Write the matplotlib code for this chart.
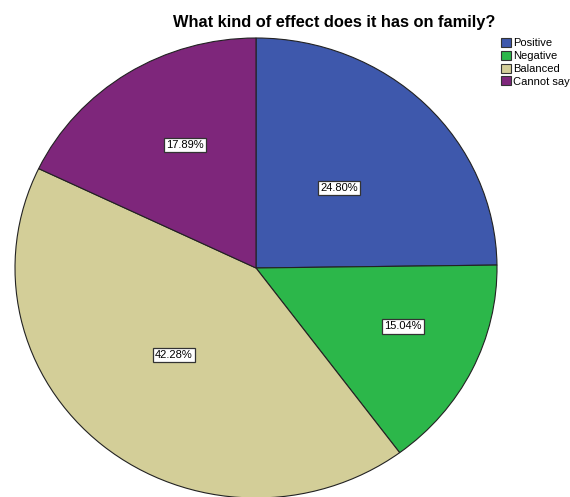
import numpy as np
import matplotlib.pyplot as plt
from matplotlib.patches import Patch

plt.rcParams['font.family'] = ['Liberation Sans', 'DejaVu Sans']

categorias = ["Positive", "Negative", "Balanced", "Cannot say"]
porcentajes = [24.80, 15.04, 42.28, 17.89]
colores = ["#3e58ac", "#2cb74a", "#d3ce98", "#7e267b"]
etiquetas = ["24.80%", "15.04%", "42.28%", "17.89%"]
# posición de cada etiqueta: distancia relativa y giro respecto al centro del sector
radios_etiqueta = [0.49, 0.66, 0.51, 0.61]
giros_etiqueta = [0, 3.7, -2.5, -3.5]

fig = plt.figure(figsize=(5.70, 4.97), dpi=100)
ax = fig.add_axes([15 / 570, -1 / 497, 482 / 570, 460 / 497])

wedges, _ = ax.pie(
    porcentajes,
    colors=colores,
    startangle=90,
    counterclock=False,
    radius=1,
    wedgeprops=dict(edgecolor="#222222", linewidth=0.8),
)
ax.set_aspect("auto")
ax.set_xlim(-1, 1)
ax.set_ylim(-1, 1)

for w, txt, r, g in zip(wedges, etiquetas, radios_etiqueta, giros_etiqueta):
    ang = np.deg2rad((w.theta1 + w.theta2) / 2 + g)
    ax.text(
        r * np.cos(ang), r * np.sin(ang), txt,
        ha="center", va="center", fontsize=8,
        bbox=dict(facecolor="white", edgecolor="#333333", boxstyle="square,pad=0.2", linewidth=0.9),
    )

fig.text(334 / 570, 1 - 23 / 497, "What kind of effect does it has on family?",
         ha="center", va="center", fontsize=11.8, fontweight="bold")

handles = [Patch(facecolor=c, edgecolor="#333333", linewidth=0.8) for c in colores]
fig.legend(
    handles, categorias,
    loc="upper left", bbox_to_anchor=(499 / 570, 1 - 36 / 497),
    frameon=False, fontsize=8,
    handlelength=0.85, handleheight=0.85, handletextpad=0.2,
    labelspacing=0.22, borderpad=0.2, borderaxespad=0,
)

fig.savefig("out.png", dpi=100)
